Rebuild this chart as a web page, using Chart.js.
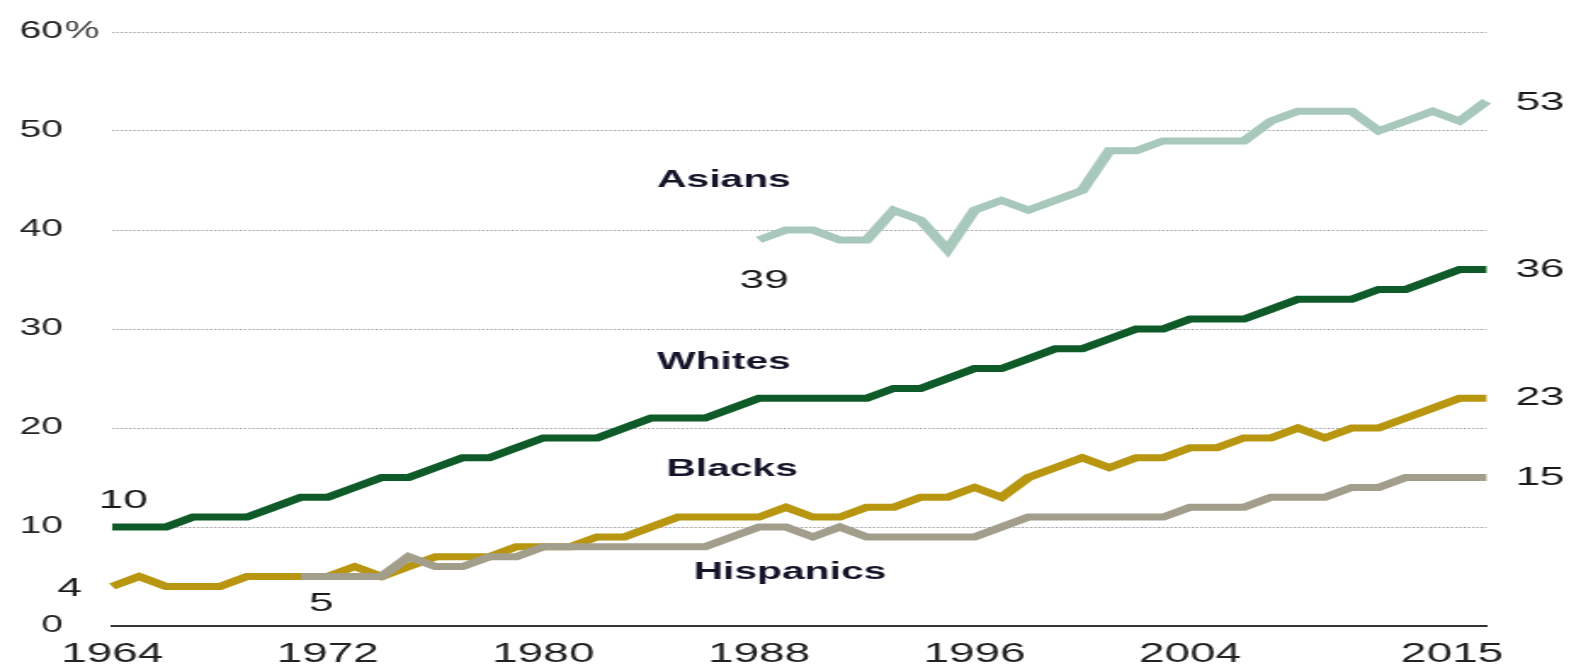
<!DOCTYPE html>
<html>
<head>
<meta charset="utf-8">
<title>Share with a bachelor's degree, by race and ethnicity</title>
<script src="https://cdn.jsdelivr.net/npm/chart.js@4.4.1/dist/chart.umd.min.js"></script>
<style>
  html, body { margin: 0; padding: 0; background: #fff; overflow: hidden; }
  /* the chart is drawn narrow and widened sideways */
  #wrap { position: absolute; left: 0; top: 0; width: 925px; height: 672px; transform: scaleX(1.7); transform-origin: 0 0; }
</style>
</head>
<body>
<div id="wrap"><canvas id="chart"></canvas></div>
<script>
const years = [
  1964, 1965, 1966, 1967, 1968, 1969, 1970, 1971, 1972, 1973,
  1974, 1975, 1976, 1977, 1978, 1979, 1980, 1981, 1982, 1983,
  1984, 1985, 1986, 1987, 1988, 1989, 1990, 1991, 1992, 1993,
  1994, 1995, 1996, 1997, 1998, 1999, 2000, 2001, 2002, 2003,
  2004, 2005, 2006, 2007, 2008, 2009, 2010, 2011, 2012, 2013,
  2014, 2015
];

const whites = [
  10, 10, 10, 11, 11, 11, 12, 13, 13, 14,
  15, 15, 16, 17, 17, 18, 19, 19, 19, 20,
  21, 21, 21, 22, 23, 23, 23, 23, 23, 24,
  24, 25, 26, 26, 27, 28, 28, 29, 30, 30,
  31, 31, 31, 32, 33, 33, 33, 34, 34, 35,
  36, 36
];

const blacks = [
  4, 5, 4, 4, 4, 5, 5, 5, 5, 6,
  5, 6, 7, 7, 7, 8, 8, 8, 9, 9,
  10, 11, 11, 11, 11, 12, 11, 11, 12, 12,
  13, 13, 14, 13, 15, 16, 17, 16, 17, 17,
  18, 18, 19, 19, 20, 19, 20, 20, 21, 22,
  23, 23
];

const hispanics = [
  null, null, null, null, null, null, null, 5, 5, 5,
  5, 7, 6, 6, 7, 7, 8, 8, 8, 8,
  8, 8, 8, 9, 10, 10, 9, 10, 9, 9,
  9, 9, 9, 10, 11, 11, 11, 11, 11, 11,
  12, 12, 12, 13, 13, 13, 14, 14, 15, 15,
  15, 15
];

const asians = [
  null, null, null, null, null, null, null, null, null, null,
  null, null, null, null, null, null, null, null, null, null,
  null, null, null, null, 39, 40, 40, 39, 39, 42,
  41, 38, 42, 43, 42, 43, 44, 48, 48, 49,
  49, 49, 49, 51, 52, 52, 52, 50, 51, 52,
  51, 53
];

const yTicks = [0, 10, 20, 30, 40, 50, 60];
const xTickYears = [1964, 1972, 1980, 1988, 1996, 2004, 2015];

const FONT = '"Liberation Sans", Arial, sans-serif';

// series names written beside the lines, anchored at (year index, value)
const seriesNames = [
  { text: 'Asians', at: [22.7, 45.0] },
  { text: 'Whites', at: [22.7, 26.6] },
  { text: 'Blacks', at: [23.0, 15.85] },
  { text: 'Hispanics', at: [25.15, 5.45] }
];

// start and end values printed next to each line
const callouts = [
  { data: whites, end: 'first', dx: 6.5, dy: -26, align: 'center' },
  { data: blacks, end: 'first', dx: -25, dy: 2, align: 'center' },
  { data: hispanics, end: 'first', dx: 12, dy: 27, align: 'center' },
  { data: asians, end: 'first', dx: 3, dy: 41, align: 'center' },
  { data: asians, end: 'last', dx: 17, dy: 2, align: 'left' },
  { data: whites, end: 'last', dx: 17, dy: 0, align: 'left' },
  { data: blacks, end: 'last', dx: 17, dy: 0, align: 'left' },
  { data: hispanics, end: 'last', dx: 17, dy: 0, align: 'left' }
];

const labelPlugin = {
  id: 'lineLabels',
  afterDatasetsDraw(chart) {
    const { ctx, scales: { x, y } } = chart;
    ctx.save();
    ctx.textBaseline = 'middle';

    ctx.font = 'bold 24px ' + FONT;
    ctx.fillStyle = '#15152a';
    ctx.textAlign = 'center';
    seriesNames.forEach(n => {
      ctx.fillText(n.text, x.getPixelForValue(n.at[0]), y.getPixelForValue(n.at[1]));
    });

    ctx.font = '26px ' + FONT;
    ctx.fillStyle = '#1a1a1a';
    callouts.forEach(c => {
      let i = c.end === 'first' ? c.data.findIndex(v => v !== null) : c.data.length - 1;
      const v = c.data[i];
      ctx.textAlign = c.align;
      ctx.fillText(String(v), x.getPixelForValue(i) + c.dx, y.getPixelForValue(v) + c.dy);
    });

    // percent sign after the top tick
    ctx.font = '23px ' + FONT;
    ctx.fillStyle = '#444';
    ctx.textAlign = 'left';
    ctx.fillText('%', y.right - 28, y.getPixelForValue(60));
    ctx.restore();
  }
};

const line = (data, color) => ({
  data: data,
  borderColor: color,
  backgroundColor: color,
  borderWidth: 7,
  pointRadius: 0,
  tension: 0,
  spanGaps: false,
  borderCapStyle: 'butt'
});

new Chart(document.getElementById('chart'), {
  type: 'line',
  data: {
    labels: years,
    datasets: [
      line(whites, '#0e5a28'),
      line(hispanics, '#a39e8b'),
      line(blacks, '#b8960f'),
      line(asians, '#a8c8bc')
    ]
  },
  options: {
    responsive: true,
    maintainAspectRatio: false,
    animation: false,
    layout: { padding: { top: 32, right: 50.6, bottom: 0, left: 0 } },
    plugins: { legend: { display: false }, tooltip: { enabled: false } },
    scales: {
      x: {
        grid: { display: false, drawTicks: false },
        border: { display: true, color: '#333', width: 2 },
        afterBuildTicks: axis => {
          axis.ticks = axis.ticks.filter(t => xTickYears.includes(years[t.value]));
        },
        afterFit: axis => {
          axis.height = 46;
          axis.paddingLeft = 0;
          axis.paddingRight = 0;
        },
        ticks: {
          autoSkip: false,
          maxRotation: 0,
          padding: 12,
          color: '#222',
          font: { family: FONT, size: 27 },
          // the last year sits pulled in from the axis end
          callback: v => years[v] === 2015 ? years[v] + '\u2003\u2002' : years[v]
        }
      },
      y: {
        min: 0,
        max: 60,
        afterBuildTicks: axis => { axis.ticks = yTicks.map(v => ({ value: v })); },
        afterFit: axis => {
          axis.width = 66;
          axis.paddingTop = 0;
          axis.paddingBottom = 0;
        },
        grid: {
          drawTicks: false,
          color: c => c.tick && c.tick.value === 0 ? 'rgba(0,0,0,0)' : '#9a9a9a',
          lineWidth: 1
        },
        border: { display: false, dash: [1.3, 1.2] },
        ticks: {
          padding: 29,
          color: '#222',
          font: { family: FONT, size: 23 }
        }
      }
    }
  },
  plugins: [labelPlugin]
});
</script>
</body>
</html>
